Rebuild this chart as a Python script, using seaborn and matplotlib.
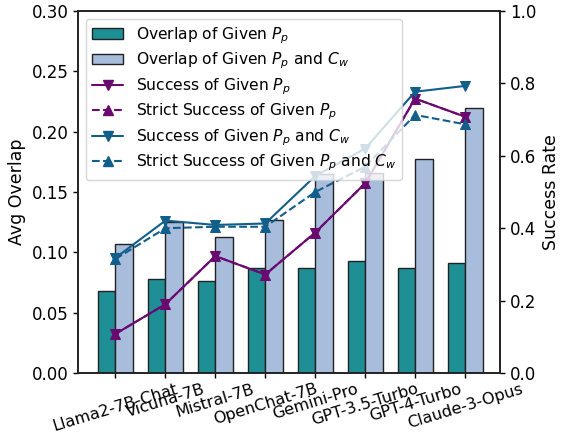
import numpy as np
import pandas as pd
import matplotlib
matplotlib.use("Agg")
import matplotlib.pyplot as plt
import seaborn as sns
from matplotlib.patches import Patch
from matplotlib.lines import Line2D

models = ["Llama2-7B-Chat", "Vicuna-7B", "Mistral-7B", "OpenChat-7B",
          "Gemini-Pro", "GPT-3.5-Turbo", "GPT-4-Turbo", "Claude-3-Opus"]
overlap_pp = [0.068, 0.078, 0.076, 0.087, 0.087, 0.093, 0.087, 0.091]
overlap_pp_cw = [0.107, 0.125, 0.113, 0.127, 0.165, 0.166, 0.177, 0.220]
success_pp = [0.108, 0.190, 0.323, 0.272, 0.388, 0.524, 0.758, 0.708]
strict_success_pp = [0.108, 0.190, 0.323, 0.272, 0.388, 0.524, 0.758, 0.708]
success_pp_cw = [0.318, 0.421, 0.409, 0.413, 0.544, 0.620, 0.777, 0.793]
strict_success_pp_cw = [0.315, 0.400, 0.404, 0.404, 0.500, 0.570, 0.713, 0.687]

lab_bar1 = "Overlap of Given $P_p$"
lab_bar2 = "Overlap of Given $P_p$ and $C_w$"
lab_l1 = "Success of Given $P_p$"
lab_l2 = "Strict Success of Given $P_p$"
lab_l3 = "Success of Given $P_p$ and $C_w$"
lab_l4 = "Strict Success of Given $P_p$ and $C_w$"

sns.set_style("ticks")
plt.rcParams['font.family'] = ['DejaVu Sans']
plt.rcParams.update({
    "text.color": "black", "axes.labelcolor": "black",
    "xtick.color": "black", "ytick.color": "black",
    "xtick.major.size": 3.5, "ytick.major.size": 3.5,
    "xtick.major.pad": 2.5, "ytick.major.pad": 3.5,
    "xtick.major.width": 1.0, "ytick.major.width": 1.0,
})

teal = "#1f8f96"
lightblue = "#a8bcdc"
purple = "#6a0a70"
blue = "#125e8a"
edge = "#222222"

bars = pd.DataFrame({
    "model": models * 2,
    "value": overlap_pp + overlap_pp_cw,
    "kind": [lab_bar1] * len(models) + [lab_bar2] * len(models),
})

fig, ax = plt.subplots(figsize=(5.61, 4.34), dpi=100)
fig.subplots_adjust(left=78/561, right=500/561, top=1-11/434, bottom=1-373/434)

sns.barplot(data=bars, x="model", y="value", hue="kind", order=models,
            palette=[teal, lightblue], saturation=1, width=0.7, edgecolor=edge,
            linewidth=1.0, ax=ax, legend=False)
ax.set_ylim(0, 0.30)
ax.set_yticks(np.arange(0, 0.301, 0.05))
ax.set_ylabel("Avg Overlap", fontsize=12.5)
ax.set_xlabel("")
ax.tick_params(axis="y", labelsize=12)
ax.tick_params(axis="x", labelsize=11.6)
for t in ax.get_xticklabels():
    t.set_rotation(17)
    t.set_ha("center")

ax2 = ax.twinx()
x = np.arange(len(models))
sns.lineplot(x=x, y=success_pp, ax=ax2, color=purple, marker="v", markersize=7.5,
             linestyle="-", linewidth=1.5, markeredgecolor=purple)
sns.lineplot(x=x, y=strict_success_pp, ax=ax2, color=purple, marker="^", markersize=7.5,
             linestyle="--", linewidth=1.5, markeredgecolor=purple)
sns.lineplot(x=x, y=success_pp_cw, ax=ax2, color=blue, marker="v", markersize=7.5,
             linestyle="-", linewidth=1.5, markeredgecolor=blue)
sns.lineplot(x=x, y=strict_success_pp_cw, ax=ax2, color=blue, marker="^", markersize=7.5,
             linestyle="--", linewidth=1.5, markeredgecolor=blue)
ax2.set_ylim(0, 1.0)
ax2.set_yticks(np.arange(0, 1.01, 0.2))
ax2.set_ylabel("Success Rate", fontsize=12.5)
ax2.tick_params(axis="y", labelsize=12)
ax.set_xlim(-0.75, 7.7)

handles = [
    Patch(facecolor=teal, edgecolor=edge, label=lab_bar1),
    Patch(facecolor=lightblue, edgecolor=edge, label=lab_bar2),
    Line2D([], [], color=purple, marker="v", linestyle="-", markersize=7, label=lab_l1),
    Line2D([], [], color=purple, marker="^", linestyle="--", markersize=7, label=lab_l2),
    Line2D([], [], color=blue, marker="v", linestyle="-", markersize=7, label=lab_l3),
    Line2D([], [], color=blue, marker="^", linestyle="--", markersize=7, label=lab_l4),
]
ax2.legend(handles=handles, loc="upper left", fontsize=11.2, framealpha=0.8,
           labelspacing=0.32, handlelength=2.0)

for a in (ax, ax2):
    for s in a.spines.values():
        s.set_color("#222222")
        s.set_linewidth(1.2)

fig.savefig("out.png", dpi=100)
